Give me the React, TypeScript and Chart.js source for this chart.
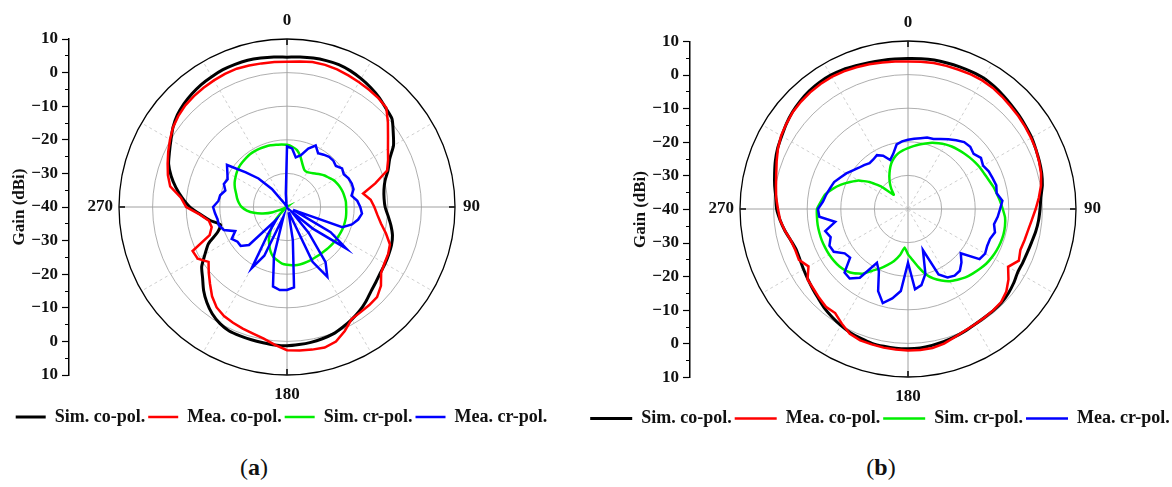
import React, { useEffect, useRef } from 'react';
import { Chart, registerables } from 'chart.js';

Chart.register(...registerables);

const FONT = '"Liberation Serif", "Times New Roman", serif';

// angle categories (degrees, clockwise from top)
const angleDeg = [
  0, 5, 10, 15, 20, 25, 30, 35, 40, 45, 50, 55,
  60, 65, 70, 75, 80, 85, 90, 95, 100, 105, 110, 115,
  120, 125, 130, 135, 140, 145, 150, 155, 160, 165, 170, 175,
  180, 185, 190, 195, 200, 205, 210, 215, 220, 225, 230, 235,
  240, 245, 250, 255, 260, 265, 270, 275, 280, 285, 290, 295,
  300, 305, 310, 315, 320, 325, 330, 335, 340, 345, 350, 355,
];

// ---------- (a) ----------
const simCoA = [
  4.6, 4.8, 5.0, 5.1, 5.1, 4.7, 4.1, 3.4, 2.6, 1.6, 0.8, -1.4,
  -3.4, -6.3, -8.0, -9.8, -10.7, -11.0, -10.8, -9.8, -8.6, -7.5, -6.9, -6.6,
  -6.3, -6.0, -5.4, -4.6, -3.4, -2.3, -1.4, -0.6, 0.2, 0.6, 0.9, 1.1,
  1.3, 1.2, 1.0, 0.9, 0.8, 0.7, 0.0, -1.2, -2.9, -4.9, -7.2, -9.0,
  -11.8, -14.2, -18.0, -19.5, -16.8, -14.2, -11.1, -8.7, -6.4, -4.3, -2.5, -1.4,
  -0.1, 1.4, 2.6, 3.4, 4.0, 4.5, 4.8, 5.1, 5.2, 5.2, 5.0, 4.8,
];
const meaCoA = [
  3.2, 3.5, 3.8, 3.8, 3.6, 3.2, 2.9, 2.6, 2.3, 1.8, -0.8, -3.3,
  -5.3, -6.8, -8.3, -12.8, -17.0, -15.0, -14.0, -13.0, -11.6, -9.5, -7.4, -6.8,
  -6.5, -5.8, -3.5, -2.1, -1.9, -1.8, -1.5, 0.7, 2.6, 3.3, 3.1, 2.9,
  2.6, 1.2, -0.2, -1.0, -1.5, -2.0, -2.5, -3.5, -5.3, -7.6, -9.6, -11.5,
  -9.3, -9.0, -15.5, -16.8, -16.4, -14.0, -10.0, -8.3, -4.7, -3.3, -2.2, -1.0,
  0.2, 1.4, 2.2, 2.8, 3.1, 3.3, 3.5, 3.7, 3.8, 3.6, 3.4, 3.3,
];
const simCrA = [
  -21.5, -22.0, -22.8, -24.5, -26.5, -27.8, -28.0, -27.6, -27.0, -26.2, -25.4, -24.8,
  -24.0, -23.5, -23.1, -22.8, -22.6, -22.4, -22.4, -22.3, -22.2, -22.2, -22.2, -22.3,
  -22.4, -22.5, -22.6, -22.7, -22.8, -22.8, -22.8, -22.7, -22.6, -22.5, -22.5, -22.6,
  -22.8, -23.1, -23.8, -24.5, -25.8, -27.5, -29.3, -31.5, -34.0, -37.0, -39.5, -40.0,
  -40.0, -39.0, -35.5, -32.6, -30.0, -28.0, -26.5, -25.6, -24.9, -24.3, -23.5, -22.8,
  -22.3, -21.8, -21.4, -21.2, -21.0, -20.8, -20.8, -20.8, -20.9, -21.0, -21.2, -21.3,
];
const meaCrA = [
  -22.0, -22.5, -25.0, -24.0, -21.5, -19.8, -21.5, -21.0, -20.5, -20.5, -21.0, -20.0,
  -20.5, -19.8, -19.5, -19.5, -20.5, -19.0, -18.2, -17.6, -18.5, -20.0, -22.5, -38.0,
  -25.0, -18.5, -30.0, -38.0, -30.0, -20.0, -16.0, -22.0, -38.0, -38.0, -30.0, -16.0,
  -15.3, -15.2, -16.0, -25.0, -37.0, -24.0, -19.0, -30.0, -35.0, -24.0, -22.0, -22.0,
  -21.0, -23.0, -20.0, -19.0, -19.0, -18.5, -18.0, -19.5, -19.8, -21.0, -20.0, -20.5,
  -19.5, -18.2, -24.0, -28.0, -33.0, -39.0, -40.0, -40.0, -40.0, -40.0, -39.0, -36.0,
];

// ---------- (b) ----------
const simCoB = [
  4.8, 4.9, 5.0, 5.0, 5.0, 5.0, 5.0, 4.6, 4.1, 3.6, 3.2, 2.8,
  2.5, 2.0, 1.6, 1.2, 0.6, -0.3, -0.7, -1.0, -1.4, -1.9, -2.2, -2.3,
  -2.3, -1.6, -1.0, -0.6, -0.5, -0.5, -0.3, 0.1, 0.5, 0.9, 1.2, 1.5,
  1.6, 1.6, 1.5, 1.4, 1.0, 0.6, 0.0, -0.7, -1.4, -2.3, -3.0, -3.6,
  -4.1, -4.5, -4.6, -3.9, -2.8, -1.8, -0.9, -0.5, 0.3, 1.1, 2.0, 2.8,
  3.4, 4.2, 4.9, 5.4, 5.8, 6.0, 6.0, 5.8, 5.4, 5.1, 4.9, 4.8,
];
const meaCoB = [
  3.9, 4.0, 4.1, 4.1, 4.1, 4.2, 4.2, 4.0, 3.6, 3.2, 2.9, 2.6,
  2.3, 2.0, 1.5, 1.0, 0.2, -0.9, -2.0, -3.0, -3.7, -4.1, -4.4, -3.6,
  -5.6, -3.5, -1.8, -0.8, -0.6, -0.5, -0.3, 0.0, 0.6, 1.5, 2.0, 2.1,
  2.1, 2.0, 1.9, 1.7, 1.6, 1.0, -0.6, -2.2, -2.0, -2.6, -3.2, -3.5,
  -5.8, -4.2, -4.3, -3.9, -2.8, -1.8, -1.3, -0.6, -0.1, 0.6, 1.6, 2.7,
  3.6, 4.2, 4.8, 5.1, 5.3, 5.4, 5.4, 5.2, 4.9, 4.6, 4.3, 4.1,
];
const simCrB = [
  -21.9, -21.2, -20.5, -19.8, -19.0, -18.4, -17.8, -17.3, -16.9, -16.5, -16.1, -15.7,
  -15.3, -15.0, -14.5, -13.8, -13.2, -12.5, -11.8, -11.0, -10.7, -10.6, -10.7, -10.9,
  -11.2, -11.6, -12.2, -12.8, -13.4, -14.3, -15.2, -16.5, -18.0, -20.0, -22.5, -24.8,
  -26.5, -28.5, -26.0, -24.0, -22.3, -20.5, -18.8, -16.5, -15.0, -14.0, -13.4, -13.1,
  -12.9, -12.8, -12.7, -12.7, -12.7, -12.8, -12.9, -14.0, -15.0, -16.8, -18.8, -21.0,
  -23.0, -26.0, -29.5, -34.0, -32.3, -30.6, -28.9, -27.2, -25.5, -24.2, -23.2, -22.5,
];
const meaCrB = [
  -19.4, -19.0, -18.6, -18.0, -17.8, -17.0, -16.0, -15.0, -14.0, -13.8, -14.5, -13.5,
  -14.2, -13.5, -13.2, -12.8, -13.2, -11.8, -12.6, -13.2, -14.0, -13.2, -14.0, -14.0,
  -13.5, -14.0, -19.5, -17.5, -16.0, -15.8, -16.5, -18.5, -27.0, -20.0, -17.0, -16.0,
  -24.0, -15.5, -13.0, -11.0, -14.0, -19.5, -21.5, -15.0, -13.0, -13.3, -17.5, -17.0,
  -14.5, -14.2, -15.5, -14.5, -18.0, -13.5, -13.2, -14.6, -15.3, -16.0, -16.6, -17.8,
  -18.8, -20.0, -20.9, -21.5, -22.2, -22.0, -21.5, -22.5, -24.5, -23.0, -20.5, -19.8,
];

// tick labels of the gain axis, from the top of the circle down to its bottom
const gainTickLabels = ['10', '0', '\u221210', '\u221220', '\u221230', '\u221240', '\u221230', '\u221220', '\u221210', '0', '10'];
const gainMin = -40;
const gainMax = 10;
const cardinalAngles = [0, 90, 180, 270];
const cardinalLabels = ['0', '90', '180', '270'];
const seriesNames = ['Sim. co-pol.', 'Mea. co-pol.', 'Sim. cr-pol.', 'Mea. cr-pol.'];
const seriesColors = ['#000000', '#ff0000', '#00ee00', '#0000ff'];
const seriesWidths = [3, 2.5, 2.5, 2.5];
const seriesTension = [0.2, 0, 0.1, 0];
const seriesOrder = [4, 2, 3, 1];

type Geom = {
  left: number;
  width: number;
  height: number;
  padTop: number;
  padBottom: number;
  axisWidth: number;
  rightWidth: number;
  gapHeight: number;
  titlePad: number;
  legendLine: number;
};

const polarDecor = {
  id: 'polarDecor',
  afterDraw(chart: any) {
    const s = chart.scales.r;
    const ctx = chart.ctx;
    const R = s.drawingArea;
    ctx.save();
    // short dark marks at the four main directions
    ctx.strokeStyle = '#000';
    ctx.lineWidth = 1.5;
    cardinalAngles.forEach((deg) => {
      const idx = angleDeg.indexOf(deg);
      const a = s.getPointPosition(idx, R - 6);
      const b = s.getPointPosition(idx, R);
      ctx.beginPath();
      ctx.moveTo(a.x, a.y);
      ctx.lineTo(b.x, b.y);
      ctx.stroke();
    });
    ctx.fillStyle = '#111';
    ctx.font = 'bold 17px ' + FONT;
    ctx.textBaseline = 'middle';
    cardinalAngles.forEach((deg, i) => {
      const idx = angleDeg.indexOf(deg);
      let off = 18;
      let align: CanvasTextAlign = 'center';
      if (deg === 90) { off = 8; align = 'left'; }
      if (deg === 180) { off = 20; }
      if (deg === 270) { off = 6; align = 'right'; }
      const p = s.getPointPosition(idx, R + off);
      ctx.textAlign = align;
      ctx.fillText(cardinalLabels[i], p.x, p.y);
    });
    ctx.restore();
  },
};

function buildConfig(series: number[][], g: Geom): any {
  return {
    type: 'radar',
    data: {
      labels: angleDeg.map(String),
      datasets: series.map((data, i) => ({
        label: seriesNames[i],
        data,
        borderColor: seriesColors[i],
        backgroundColor: seriesColors[i],
        pointBorderColor: seriesColors[i],
        borderWidth: seriesWidths[i],
        pointBorderWidth: seriesWidths[i],
        pointRadius: 0,
        pointHoverRadius: 0,
        pointStyle: 'line',
        fill: false,
        tension: seriesTension[i],
        order: seriesOrder[i],
      })),
    },
    options: {
      responsive: false,
      animation: false,
      events: [],
      layout: { padding: { top: g.padTop, bottom: g.padBottom, left: 0, right: 0 } },
      scales: {
        r: {
          min: gainMin,
          max: gainMax,
          startAngle: 0,
          ticks: { display: false, stepSize: 10 },
          pointLabels: { display: false },
          grid: {
            circular: true,
            color: (c: any) => {
              const v = c.tick ? c.tick.value : 0;
              if (v === gainMin) return 'rgba(0,0,0,0)';
              if (v === gainMax) return '#000000';
              return '#a6a6a6';
            },
            lineWidth: (c: any) => (c.tick && c.tick.value === gainMax ? 1.3 : 0.9),
          },
          angleLines: {
            display: true,
            color: (c: any) => {
              const deg = angleDeg[c.index];
              if (deg % 90 === 0) return '#a0a0a0';
              if (deg % 30 === 0) return '#cfcfcf';
              return 'rgba(0,0,0,0)';
            },
            lineWidth: (c: any) => {
              const deg = angleDeg[c.index];
              return deg % 30 === 0 ? 1 : 0;
            },
            borderDash: (c: any) => {
              const deg = angleDeg[c.index];
              return deg % 90 === 0 ? [] : [3, 3];
            },
          },
        },
        y: {
          type: 'linear',
          position: 'left',
          min: gainMin * 2 - gainMax,
          max: gainMax,
          afterFit: (s: any) => { s.width = g.axisWidth; },
          ticks: {
            stepSize: 5,
            autoSkip: false,
            padding: 4,
            color: '#111',
            font: { family: FONT, size: 17, weight: 'bold' },
            callback: (v: number) => (v % 10 === 0 ? gainTickLabels[Math.round((gainMax - v) / 10)] : ''),
          },
          grid: {
            display: true,
            drawOnChartArea: false,
            drawTicks: true,
            tickLength: 7,
            tickColor: '#000',
            tickWidth: 1.2,
            tickBorderDash: (c: any) => (c.tick && c.tick.value % 10 === 0 ? [] : [0, 3, 4, 100]),
          },
          border: { display: true, color: '#000', width: 1.5 },
          title: {
            display: true,
            text: 'Gain (dBi)',
            color: '#111',
            font: { family: FONT, size: 17, weight: 'bold' },
            padding: { top: g.titlePad, bottom: 0 },
          },
        },
        y2: {
          type: 'linear',
          position: 'right',
          min: 0,
          max: 1,
          afterFit: (s: any) => { s.width = g.rightWidth; },
          ticks: { display: false },
          grid: { display: false },
          border: { display: false },
        },
        x: {
          type: 'linear',
          position: 'bottom',
          min: 0,
          max: 1,
          afterFit: (s: any) => { s.height = g.gapHeight; },
          ticks: { display: false },
          grid: { display: false },
          border: { display: false },
        },
      },
      plugins: {
        tooltip: { enabled: false },
        legend: {
          position: 'bottom',
          align: 'center',
          labels: {
            usePointStyle: true,
            pointStyleWidth: g.legendLine,
            padding: 3,
            color: '#111',
            font: { family: FONT, size: 18, weight: 'bold' },
            sort: (a: any, b: any) => a.datasetIndex - b.datasetIndex,
          },
        },
      },
    },
    plugins: [polarDecor],
  };
}

function PolarChart({ series, geom }: { series: number[][]; geom: Geom }) {
  const ref = useRef<HTMLCanvasElement | null>(null);
  useEffect(() => {
    if (!ref.current) return;
    const chart = new Chart(ref.current, buildConfig(series, geom));
    return () => chart.destroy();
  }, []);
  return (
    <canvas
      ref={ref}
      width={geom.width}
      height={geom.height}
      style={{ position: 'absolute', left: geom.left, top: 0, width: geom.width, height: geom.height }}
    />
  );
}

const geomA: Geom = {
  left: 0, width: 563, height: 440, padTop: 39, padBottom: 4,
  axisWidth: 69, rightWidth: 58, gapHeight: 30, titlePad: 9, legendLine: 30,
};
const geomB: Geom = {
  left: 580, width: 600, height: 440, padTop: 41.5, padBottom: 2.5,
  axisWidth: 110, rightWidth: 54, gapHeight: 29, titlePad: 50, legendLine: 42,
};

export default function App() {
  const cap: React.CSSProperties = {
    position: 'absolute', top: 467, transform: 'translate(-50%, -50%)',
    fontFamily: FONT, fontSize: 24, color: '#111', whiteSpace: 'nowrap',
  };
  return (
    <div style={{ position: 'absolute', left: 0, top: 0, width: 1172, height: 487, overflow: 'hidden', background: '#fff' }}>
      <PolarChart series={[simCoA, meaCoA, simCrA, meaCrA]} geom={geomA} />
      <PolarChart series={[simCoB, meaCoB, simCrB, meaCrB]} geom={geomB} />
      <div style={{ ...cap, left: 254 }}>(<b>a</b>)</div>
      <div style={{ ...cap, left: 881 }}>(<b>b</b>)</div>
    </div>
  );
}
